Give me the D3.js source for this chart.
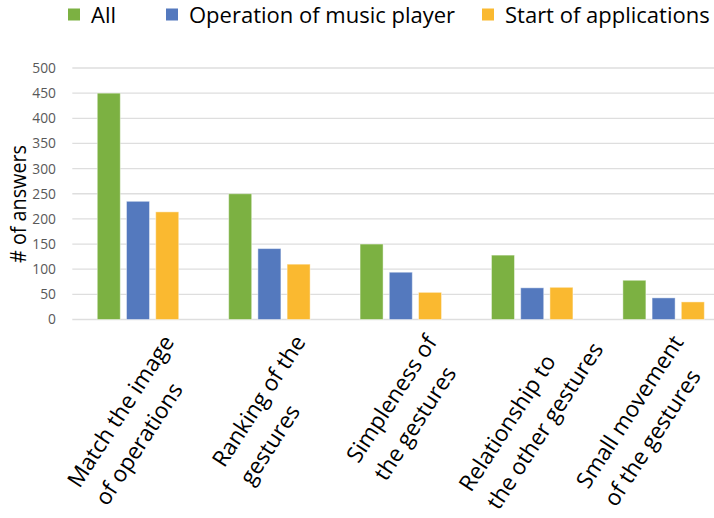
<!DOCTYPE html>
<html>
<head>
<meta charset="utf-8">
<script src="https://cdn.jsdelivr.net/npm/d3@7"></script>
<style>
  html, body { margin: 0; padding: 0; background: #fff; }
  svg { display: block; }
  text { font-family: "Open Sans", "DejaVu Sans", sans-serif; }
</style>
</head>
<body>
<svg id="chart" width="714" height="518"></svg>
<script>
// ---- data ----
const categories = [
  ["Match the image", "of operations"],
  ["Ranking of the", "gestures"],
  ["Simpleness of", "the gestures"],
  ["Relationship to", "the other gestures"],
  ["Small movement", "of the gestures"]
];
const seriesNames = ["All", "Operation of music player", "Start of applications"];
const allValues   = [450, 250, 150, 128, 78];
const musicValues = [235, 141, 94, 63, 43];
const startValues = [214, 110, 54, 64, 35];
const yTicks = [0, 50, 100, 150, 200, 250, 300, 350, 400, 450, 500];
const yTitle = "# of answers";

const colors = ["#7cb142", "#5479be", "#fab930"];
const seriesValues = [allValues, musicValues, startValues];

// ---- layout ----
const svg = d3.select("#chart");
const plotLeft = 72.3, plotRight = 729.3, plotTop = 68, plotBottom = 319.5;

const catIdx = categories.map((d, i) => i);
const x0 = d3.scaleBand().domain(catIdx).range([plotLeft, plotRight])
  .paddingInner(0.38).paddingOuter(0.19);
const x1 = d3.scaleBand().domain(d3.range(seriesNames.length))
  .range([0, x0.bandwidth()]).paddingInner(0.212).paddingOuter(0);
const y = d3.scaleLinear().domain([0, 500]).range([plotBottom, plotTop]);

// gridlines
svg.append("g").selectAll("line").data(yTicks).join("line")
  .attr("x1", plotLeft).attr("x2", 714)
  .attr("y1", d => y(d)).attr("y2", d => y(d))
  .attr("stroke", "#dedede").attr("stroke-width", 1.3);

// y axis labels
const yAxis = d3.axisLeft(y).tickValues(yTicks).tickSize(0).tickPadding(0);
const yg = svg.append("g").attr("transform", `translate(56,0)`).call(yAxis);
yg.select(".domain").remove();
yg.selectAll("text")
  .attr("font-family", '"Open Sans", sans-serif')
  .attr("font-size", 13.8).attr("fill", "#595959");

// y title (slightly condensed to mimic the original narrow face)
svg.append("text")
  .attr("transform", `translate(26,204) rotate(-90)`)
  .attr("text-anchor", "middle")
  .attr("font-size", 22.5).attr("fill", "#000")
  .attr("textLength", 118).attr("lengthAdjust", "spacingAndGlyphs")
  .text(yTitle);

// bars
const groups = svg.append("g").selectAll("g").data(catIdx).join("g")
  .attr("transform", i => `translate(${x0(i)},0)`);
groups.selectAll("rect")
  .data(i => seriesValues.map((vals, s) => ({ s, v: vals[i] })))
  .join("rect")
  .attr("x", d => x1(d.s))
  .attr("width", x1.bandwidth())
  .attr("y", d => y(d.v))
  .attr("height", d => y(0) - y(d.v))
  .attr("fill", d => colors[d.s])
  .attr("stroke", "#ffffff").attr("stroke-opacity", 0.45).attr("stroke-width", 1);

// x labels: left-aligned two-line blocks rotated -57deg, block's upper end hung under the tick
const LH = 33, ANG = 57, rad = ANG * Math.PI / 180;
const ux = Math.cos(rad), uy = -Math.sin(rad);   // along the text
const nx = Math.sin(rad), ny = Math.cos(rad);    // to the next line
const labels = svg.append("g").selectAll("g").data(catIdx).join("g");
labels.selectAll("text").data(i => categories[i]).join("text")
  .attr("text-anchor", "start")
  .attr("y", (d, j) => j * LH)
  .attr("font-size", 22.5).attr("fill", "#000")
  .text(d => d);
labels.each(function(i) {
  const g = d3.select(this);
  const widths = [];
  g.selectAll("text").each(function() { widths.push(this.getComputedTextLength()); });
  const maxW = d3.max(widths);
  g.selectAll("text").attr("x", -maxW);
  const nL = categories[i].length - 1;
  let ax = x0(i) + x0.bandwidth() / 2 + 37, ay = 342;
  // keep the block inside the picture: right edge and bottom edge
  const rightMost = ax + nL * LH * nx;
  if (rightMost > 712) ax -= rightMost - 712;
  const bottomY = ay - maxW * uy + nL * LH * ny;   // baseline start of last line
  if (bottomY > 511) { const t = (bottomY - 511) / (-uy); ax += t * ux; ay += t * uy; }
  g.attr("transform", `translate(${ax},${ay}) rotate(${-ANG})`);
});

// legend
const legendX = [68, 166, 482];
const leg = svg.append("g").selectAll("g").data(seriesNames).join("g")
  .attr("transform", (d, i) => `translate(${legendX[i]},0)`);
leg.append("rect").attr("x", 0).attr("y", 8.5).attr("width", 12).attr("height", 12)
  .attr("fill", (d, i) => colors[i]);
leg.append("text").attr("x", 23).attr("y", 22.5)
  .attr("font-size", 22).attr("fill", "#000")
  .text(d => d);
</script>
</body>
</html>
